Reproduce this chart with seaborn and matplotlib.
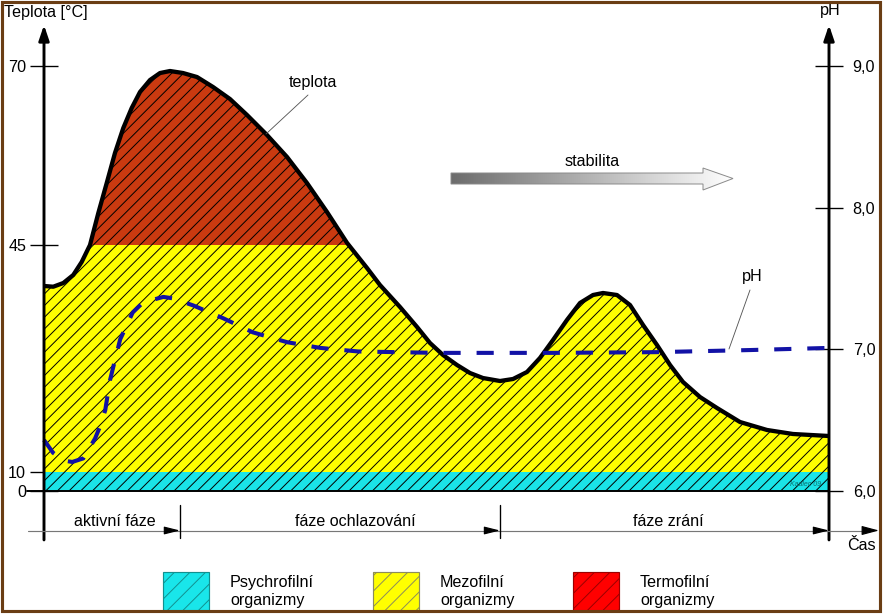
import numpy as np
import matplotlib
matplotlib.use("Agg")
import matplotlib.pyplot as plt
import seaborn as sns
from matplotlib.patches import Rectangle, Polygon
from matplotlib import transforms
from matplotlib.colors import LinearSegmentedColormap

# ---------------- data ----------------
time_t = [0, 1.18, 2.46, 3.73, 4.80, 5.86, 6.92, 7.99, 9.04, 10.10,
          11.17, 12.23, 13.50, 14.78, 16.05, 17.71, 19.49, 21.53, 23.69, 25.86,
          28.41, 30.96, 33.50, 36.05, 38.60, 41.15, 42.80, 45.35, 47.52, 49.17,
          50.83, 52.61, 54.27, 55.92, 58.09, 59.75, 61.53, 63.18, 64.84, 66.62,
          68.28, 69.94, 71.21, 72.99, 74.65, 76.31, 78.09, 79.75, 81.40, 83.57,
          85.73, 88.66, 92.10, 95.41, 100]
temperature = [38.68, 38.57, 39.14, 40.38, 42.38, 45.0, 49.47, 53.66, 57.85, 61.34,
               64.13, 66.37, 68.04, 69.02, 69.30, 69.02, 68.46, 67.07, 65.39, 63.16,
               60.36, 57.29, 53.66, 49.61, 45.3, 41.45, 38.83, 35.44, 32.36, 29.89,
               28.04, 26.50, 25.26, 24.49, 24.03, 24.34, 25.42, 27.58, 30.35, 33.44,
               36.06, 37.29, 37.60, 37.29, 35.75, 32.67, 29.58, 26.50, 23.88, 21.56,
               19.87, 17.71, 16.48, 15.86, 15.55]

ph_t = [0, 1.15, 2.5, 3.6, 5.0, 6.5, 7.1, 7.8, 8.4, 8.8,
        9.7, 11.3, 12.6, 15.2, 16.4, 19.0, 22.8, 26.6, 31.0, 35.2,
        40.0, 50.0, 65.0, 78.0, 90.0, 100]
ph_values = [6.36, 6.27, 6.215, 6.205, 6.23, 6.37, 6.45, 6.57, 6.78, 6.87,
             7.07, 7.26, 7.33, 7.37, 7.36, 7.31, 7.22, 7.12, 7.05, 7.01,
             6.985, 6.975, 6.975, 6.98, 6.995, 7.01]

temp_ticks = [0, 10, 45, 70]
temp_tick_labels = ["0", "10", "45", "70"]
ph_ticks = [6, 7, 8, 9]
ph_tick_labels = ["6,0", "7,0", "8,0", "9,0"]

zone_limits = [0, 10, 45]          # psychro / mezo / termo boundaries
phase_bounds = [17.32, 58.09, 100]
phase_label_pos = [9.0, 39.7, 79.5]
phase_labels = ["aktivní fáze", "fáze ochlazování", "fáze zrání"]

legend_labels = [("Psychrofilní", "organizmy"), ("Mezofilní", "organizmy"),
                 ("Termofilní", "organizmy")]
legend_colors = ["#19E6EA", "#FFFF00", "#FF0000"]
legend_edges = ["#12908F", "#8C8C5A", "#9A0000"]

CYAN, YELLOW, RED = "#1AE4E8", "#FFFF00", "#CA3A10"
BLUE = "#1212A6"

# ---------------- style ----------------
sns.set_theme(style="white", rc={"text.color": "black", "axes.labelcolor": "black",
                                 "xtick.color": "black", "ytick.color": "black"})
plt.rcParams["font.family"] = ["Liberation Sans", "DejaVu Sans"]
plt.rcParams["hatch.linewidth"] = 0.5
FS = 8.3

W, H, DPI = 885, 614, 140
fig = plt.figure(figsize=(W / DPI, H / DPI), dpi=DPI)
fig.patch.set_facecolor("white")
ax = fig.add_axes([44 / W, 1 - 491 / H, 785 / W, 466 / H])

# non-uniform temperature axis (as drawn in the original)
T_KNOTS = np.array([0.0, 10.0, 45.0, 70.0])
U_KNOTS = np.array([0.0, 19.0, 246.0, 425.0])


def fwd(T):
    T = np.asarray(T, dtype=float)
    u = np.interp(T, T_KNOTS, U_KNOTS)
    u = np.where(T < 0, T * 1.9, u)
    u = np.where(T > 70, 425 + (T - 70) * 7.16, u)
    return u


def inv(u):
    u = np.asarray(u, dtype=float)
    T = np.interp(u, U_KNOTS, T_KNOTS)
    T = np.where(u < 0, u / 1.9, T)
    T = np.where(u > 425, 70 + (u - 425) / 7.16, T)
    return T


ax.set_yscale("function", functions=(fwd, inv))
ax.set_xlim(0, 100)
ax.set_ylim(0, float(inv(466)))
ax.patch.set_alpha(0)

t = np.array(time_t)
T = np.array(temperature)

ax.fill_between(t, zone_limits[0], zone_limits[1], facecolor=CYAN, edgecolor="black",
                hatch="////", linewidth=0, zorder=1)
ax.fill_between(t, zone_limits[1], np.minimum(T, zone_limits[2]), facecolor=YELLOW,
                edgecolor="black", hatch="////", linewidth=0, zorder=1)
ax.fill_between(t, zone_limits[2], T, where=T >= zone_limits[2], interpolate=True,
                facecolor=RED, edgecolor="black", hatch="////", linewidth=0, zorder=1)
sns.lineplot(x=t, y=T, ax=ax, color="black", linewidth=2.2, sort=False,
             estimator=None, zorder=3)
for ln in ax.lines:
    ln.set_clip_on(False)
    ln.set_solid_capstyle("butt")
    ln.set_solid_joinstyle("round")

# baseline at 0
ax.plot([-2.15, 100], [0, 0], color="black", lw=1.0, clip_on=False, zorder=4)

ax.set_yticks(temp_ticks)
ax.set_yticklabels(temp_tick_labels)
ax.tick_params(axis="y", direction="inout", length=14.4, width=0.7, pad=2.0,
               labelsize=FS, left=True, right=False)
ax.tick_params(axis="x", bottom=False, labelbottom=False)
ax.set_xlabel("")
ax.set_ylabel("")
for s in ax.spines.values():
    s.set_visible(False)

# pH axis
ax2 = ax.twinx()
ax2.set_ylim(6.0, 6.0 + 466 / 141.67)
sns.lineplot(x=ph_t, y=ph_values, ax=ax2, color=BLUE, linewidth=2.1, sort=False,
             estimator=None)
ph_line = ax2.lines[-1]
ph_line.set_dashes([4.2, 3.9])
ph_line.set_clip_on(False)
ax2.set_yticks(ph_ticks)
ax2.set_yticklabels(ph_tick_labels)
ax2.tick_params(axis="y", direction="inout", length=14.4, width=0.7, pad=5,
                labelsize=FS, right=True, left=False)
ax2.set_ylabel("")
ax2.set_xlabel("")
for s in ax2.spines.values():
    s.set_visible(False)

# vertical axes with arrows
for xa in (0, 1):
    ax2.annotate("", xy=(xa, 1.0), xycoords="axes fraction", xytext=(xa, -0.105),
                 textcoords="axes fraction", annotation_clip=False,
                 arrowprops=dict(arrowstyle="-|>,head_length=0.65,head_width=0.22",
                                 color="black", lw=1.5, shrinkA=0, shrinkB=0,
                                 mutation_scale=10))

# ---------------- overlay (annotations) ----------------
ov = fig.add_axes([0, 0, 1, 1], zorder=5)
ov.set_xlim(0, W)
ov.set_ylim(H, 0)
ov.axis("off")
ov.patch.set_alpha(0)

blend = transforms.blended_transform_factory(ax.transData, ov.transData)

# time axis
ov.plot([28, 870], [530.5, 530.5], color="#777777", lw=0.6)
ov.annotate("", xy=(879, 530.5), xytext=(864, 530.5),
            arrowprops=dict(arrowstyle="-|>,head_length=0.75,head_width=0.2",
                            color="black", lw=0.6, shrinkA=0, shrinkB=0,
                            mutation_scale=10))
for b in phase_bounds:
    if b < 100:
        ov.plot([b, b], [505, 538], color="black", lw=0.7, transform=blend)
    ov.annotate("", xy=(b, 530.5), xycoords=blend, xytext=(b - 1.7, 530.5),
                textcoords=blend,
                arrowprops=dict(arrowstyle="-|>,head_length=0.68,head_width=0.17",
                                color="black", lw=0.6, shrinkA=0, shrinkB=0,
                                mutation_scale=10))
for xp, lab in zip(phase_label_pos, phase_labels):
    ov.text(xp, 526.5, lab, transform=blend, ha="center", va="baseline", fontsize=FS)
ov.text(861, 545, "Čas", ha="center", va="center", fontsize=FS)

# axis titles
ov.text(4, 12, "Teplota [°C]", ha="left", va="center", fontsize=FS)
ov.text(830, 11, "pH", ha="center", va="center", fontsize=FS)

# curve labels with leader lines
ov.text(313, 82, "teplota", ha="center", va="center", fontsize=FS)
ov.plot([308, 266], [95, 134], color="#555555", lw=0.45)
ov.text(752, 276, "pH", ha="center", va="center", fontsize=FS)
ov.plot([750, 729], [290, 349], color="#555555", lw=0.45)

# stabilita gradient arrow
verts = [(451, 173), (703, 173), (703, 168), (733, 178.5), (703, 190), (703, 184), (451, 184)]
arrow_poly = Polygon(verts, closed=True, facecolor="none", edgecolor="#8a8a8a", lw=0.5,
                     zorder=3)
ov.add_patch(arrow_poly)
grad = np.linspace(0, 1, 256)[None, :]
cmap = LinearSegmentedColormap.from_list("g", ["#6c6c6c", "#ffffff"])
im = ov.imshow(grad, cmap=cmap, extent=(451, 733, 190, 168), aspect="auto", zorder=2)
im.set_clip_path(arrow_poly)
ov.set_xlim(0, W)
ov.set_ylim(H, 0)
ov.text(592, 161, "stabilita", ha="center", va="center", fontsize=FS)

# signature
ov.text(806, 484, "Kadlec 09", ha="center", va="center", fontsize=3.6,
        color="#0b6f70", style="italic")

# legend
legend_x = [163, 373, 573]
for x0, (l1, l2), fc, ec in zip(legend_x, legend_labels, legend_colors, legend_edges):
    ov.add_patch(Rectangle((x0, 572), 46, 42, facecolor=fc, edgecolor=ec, hatch="///",
                           lw=0.6, zorder=3))
    ov.text(x0 + 67, 587, l1, ha="left", va="baseline", fontsize=FS)
    ov.text(x0 + 67, 605, l2, ha="left", va="baseline", fontsize=FS)

# brown frame
ov.add_patch(Rectangle((2, 2), 878, 608.5, fill=False, edgecolor="#6A3D14", lw=1.6,
                       zorder=10, clip_on=False))
ov.add_patch(Rectangle((881.5, 0), 10, H, facecolor="white", edgecolor="none",
                       zorder=9, clip_on=False))
ov.add_patch(Rectangle((0, 611.5), W, 10, facecolor="white", edgecolor="none",
                       zorder=9, clip_on=False))

fig.savefig("out.png", dpi=DPI)
